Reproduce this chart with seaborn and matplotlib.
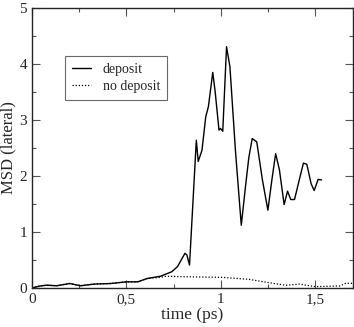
# import the libraries
import pandas as pd
import seaborn as sns
import matplotlib.pyplot as plt
from matplotlib.ticker import MultipleLocator, FuncFormatter

# deposit curve (time in ps, MSD lateral)
t_dep = [0, 0.043, 0.078, 0.13, 0.2, 0.257, 0.33, 0.417, 0.5, 0.56, 0.61, 0.68,
         0.74, 0.77, 0.81, 0.82, 0.834, 0.87, 0.88, 0.9, 0.92, 0.934, 0.943,
         0.957, 0.97, 0.99, 0.998, 1.01, 1.03, 1.048, 1.077, 1.108, 1.13,
         1.148, 1.166, 1.19, 1.22, 1.249, 1.27, 1.29, 1.31, 1.335, 1.353,
         1.37, 1.39, 1.415, 1.437, 1.455, 1.478, 1.494, 1.515, 1.533]
msd_dep = [0, 0.036, 0.05, 0.04, 0.08, 0.04, 0.07, 0.08, 0.11, 0.11, 0.17, 0.21,
           0.29, 0.38, 0.62, 0.59, 0.41, 2.64, 2.26, 2.46, 3.06, 3.24, 3.48,
           3.85, 3.5, 2.82, 2.85, 2.8, 4.31, 3.95, 2.46, 1.12, 1.8,
           2.33, 2.67, 2.61, 1.93, 1.39, 1.93, 2.4, 2.11, 1.49, 1.73,
           1.58, 1.58, 1.93, 2.23, 2.21, 1.86, 1.74, 1.94, 1.93]

# no deposit curve
t_nodep = [0, 0.043, 0.078, 0.13, 0.2, 0.257, 0.33, 0.417, 0.5, 0.56, 0.61, 0.68,
           0.71, 0.83, 1.005, 1.148, 1.255, 1.344, 1.415, 1.5, 1.63, 1.66, 1.71]
msd_nodep = [0, 0.036, 0.05, 0.04, 0.08, 0.04, 0.07, 0.08, 0.11, 0.11, 0.17, 0.19,
             0.21, 0.2, 0.19, 0.155, 0.095, 0.048, 0.07, 0.024, 0.036, 0.083, 0.083]

dep = pd.DataFrame({"time": t_dep, "msd": msd_dep})
nodep = pd.DataFrame({"time": t_nodep, "msd": msd_nodep})

# set the style and font
sns.set_style("ticks")
plt.rcParams["font.family"] = ["Liberation Serif", "DejaVu Serif"]

fig = plt.figure(figsize=(3.54, 3.27), dpi=100)
ax = fig.add_axes([0.0904, 0.1193, 0.907, 0.856])

sns.lineplot(x="time", y="msd", data=dep, ax=ax, color="black", lw=1.0,
             label="deposit")
sns.lineplot(x="time", y="msd", data=nodep, ax=ax, color="black", lw=0.9,
             linestyle=(0, (1, 1.5)), label="no deposit")

# axes limits and ticks
ax.set_xlim(0, 1.7)
ax.set_ylim(0, 5)
ax.xaxis.set_major_locator(MultipleLocator(0.5))
ax.xaxis.set_minor_locator(MultipleLocator(0.25))
ax.yaxis.set_major_locator(MultipleLocator(1))
ax.yaxis.set_minor_locator(MultipleLocator(0.5))
ax.xaxis.set_major_formatter(FuncFormatter(lambda v, p: f"{v:g}".replace(".", ",")))
ax.tick_params(which="both", direction="in", top=True, right=True, labelsize=11,
               color="#555555", width=0.8)
ax.tick_params(which="major", length=6)
ax.tick_params(which="minor", length=3)
for s in ax.spines.values():
    s.set_linewidth(1.0)

ax.set_xlabel("time (ps)", fontsize=12.5, labelpad=1)
ax.set_ylabel("MSD (lateral)", fontsize=12, labelpad=2)

# legend
leg = ax.legend(loc="upper left", bbox_to_anchor=(0.103, 0.828), fontsize=10,
                frameon=True, fancybox=False, edgecolor="#444444",
                handlelength=1.4, handletextpad=0.8, borderpad=0.5,
                labelspacing=0.3, borderaxespad=0)
leg.get_frame().set_linewidth(0.8)

# save the figure
fig.savefig("out.png", dpi=100)
